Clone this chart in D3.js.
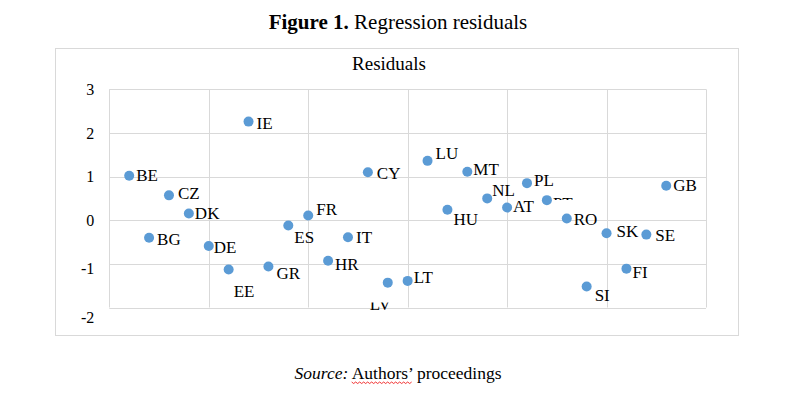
<!DOCTYPE html>
<html>
<head>
<meta charset="utf-8">
<script src="https://cdn.jsdelivr.net/npm/d3@7"></script>
<style>
  body { margin: 0; background: #fff; }
  svg { display: block; }
  text { font-family: "Liberation Serif", "Times New Roman", serif; fill: #000; }
</style>
</head>
<body>
<svg id="chart" width="798" height="395"></svg>
<script>
// EU member states in protocol order, plotted at positions 1..28
const countries = ["BE","BG","CZ","DK","DE","EE","IE","GR","ES","FR","HR","IT","CY","LV",
                   "LT","LU","HU","MT","NL","AT","PL","PT","RO","SI","SK","FI","SE","GB"];
const residuals = [1.02, -0.40, 0.57, 0.155, -0.59, -1.13, 2.26, -1.06, -0.12, 0.11, -0.93, -0.39, 1.10, -1.43,
                   -1.39, 1.36, 0.24, 1.11, 0.50, 0.29, 0.85, 0.46, 0.04, -1.52, -0.30, -1.11, -0.33, 0.79];
const yTicks = [-2, -1, 0, 1, 2, 3];
const xTicks = [0, 5, 10, 15, 20, 25, 30];

// label placement relative to the dot (dx to text start, dy to text middle)
const labelPos = {
  BE: [7, 0], BG: [8, 2], CZ: [9, -2], DK: [6, 0], DE: [5, 1], EE: [5, 22], IE: [8, 2],
  GR: [8, 7], ES: [6, 12], FR: [8, -6], HR: [7, 4], IT: [8, 0], CY: [9, 1], LV: [-18, 22],
  LT: [6, -3], LU: [8, -7], HU: [6, 10], MT: [6, -2], NL: [5, -8], AT: [6, -1], PL: [7, -3],
  PT: [6, 3], RO: [7, 1], SI: [8, 9], SK: [10, -2], FI: [6, 4], SE: [9, 1], GB: [7, 0]
};
// parts of two labels are hidden in the original
const labelClip = { PT: [0, 200], LV: [302.5, 400] };

const svg = d3.select("#chart");
const grid = "#d9d9d9";

const x = d3.scaleLinear().domain([0, 30]).range([109.3, 706]);
const y = d3.scaleLinear().domain([-2, 3]).range([307.5, 89.3]);

// heading
svg.append("text")
  .attr("x", 398).attr("y", 29)
  .attr("text-anchor", "middle")
  .style("font-size", "21px")
  .call(t => {
    t.append("tspan").style("font-weight", "bold").text("Figure 1.");
    t.append("tspan").text(" Regression residuals");
  });

// chart frame
svg.append("rect")
  .attr("x", 55.5).attr("y", 48.5)
  .attr("width", 683).attr("height", 287)
  .attr("fill", "#fff")
  .attr("stroke", grid);

svg.append("text")
  .attr("x", 389).attr("y", 70)
  .attr("text-anchor", "middle")
  .style("font-size", "19px")
  .text("Residuals");

// gridlines
svg.append("g").selectAll("line.h")
  .data(yTicks).enter().append("line")
  .attr("x1", x(0)).attr("x2", x(30))
  .attr("y1", d => Math.round(y(d)) + 0.5)
  .attr("y2", d => Math.round(y(d)) + 0.5)
  .attr("stroke", grid);

svg.append("g").selectAll("line.v")
  .data(xTicks).enter().append("line")
  .attr("y1", y(-2)).attr("y2", y(3))
  .attr("x1", d => Math.round(x(d)) + 0.5)
  .attr("x2", d => Math.round(x(d)) + 0.5)
  .attr("stroke", grid);

// y axis labels (the negative ones sit a little low in the original)
const yAxis = d3.axisLeft(y)
  .tickValues(yTicks)
  .tickSize(0)
  .tickPadding(15)
  .tickFormat(d => String(d));

svg.append("g")
  .attr("transform", `translate(${x(0)},0)`)
  .call(yAxis)
  .call(g => g.select(".domain").remove())
  .selectAll("text")
  .attr("y", d => d < 0 ? -d * 5 : 0)
  .style("font-size", "16px")
  .style("font-family", "'Liberation Serif', serif");

// clip paths for the half hidden labels
const defs = svg.append("defs");
Object.entries(labelClip).forEach(([k, [a, b]]) => {
  defs.append("clipPath").attr("id", "clip-" + k)
    .append("rect").attr("x", 0).attr("y", a).attr("width", 798).attr("height", b - a);
});

// points
const pts = countries.map((c, i) => ({ c, i: i + 1, v: residuals[i] }));

svg.append("g").selectAll("circle")
  .data(pts).enter().append("circle")
  .attr("cx", d => x(d.i))
  .attr("cy", d => y(d.v))
  .attr("r", 5)
  .attr("fill", "#5b9bd5");

svg.append("g").selectAll("text")
  .data(pts).enter().append("text")
  .attr("x", d => x(d.i) + labelPos[d.c][0])
  .attr("y", d => y(d.v) + labelPos[d.c][1])
  .attr("dy", "0.33em")
  .attr("clip-path", d => labelClip[d.c] ? `url(#clip-${d.c})` : null)
  .style("font-size", "17px")
  .text(d => d.c);

// source line
const src = svg.append("text")
  .attr("x", 398).attr("y", 379)
  .attr("text-anchor", "middle")
  .style("font-size", "17.5px");
src.append("tspan").style("font-style", "italic").text("Source:");
src.append("tspan").text(" Authors’ proceedings");

// spell-check squiggle under "Authors’"
const node = src.node();
const x0 = node.getStartPositionOfChar(8).x;
const x1 = node.getEndPositionOfChar(15).x;
const wave = d3.range(x0, x1, 2).map((px, k) => [px, 382 + (k % 2 ? 1.5 : 0)]);
svg.append("path")
  .attr("d", d3.line()(wave))
  .attr("fill", "none")
  .attr("stroke", "#e00")
  .attr("stroke-width", 0.8);
</script>
</body>
</html>
